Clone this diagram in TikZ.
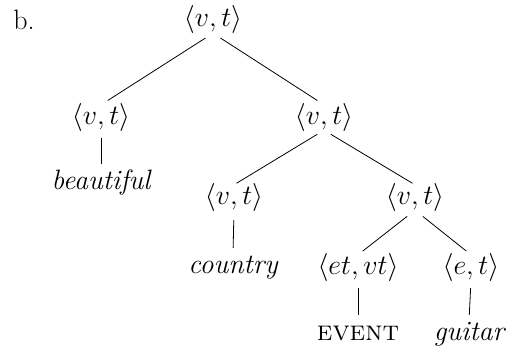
\RequirePackage{fix-cm}
\documentclass[tikz,border=0pt]{standalone}
\begin{document}
\begin{tikzpicture}[x=1pt,y=-1pt,
  lab/.style={anchor=base, inner sep=0pt, font=\fontsize{28}{32}\selectfont, text height=19pt, text depth=6pt},
  edge/.style={line width=0.8pt, shorten <=8pt, shorten >=6pt}]
\useasboundingbox (0,0) rectangle (509,348);
\node[lab] (b) at (24,29) {b.};
\node[lab] (r) at (213,27) {$\langle v,t\rangle$};
\node[lab] (l) at (101,124) {$\langle v,t\rangle$};
\node[lab] (beautiful) at (101,189) {\itshape beautiful};
\node[lab] (m) at (324,124) {$\langle v,t\rangle$};
\node[lab] (ml) at (234,204) {$\langle v,t\rangle$};
\node[lab] (country) at (233,273) {\itshape country};
\node[lab] (mr) at (415,204) {$\langle v,t\rangle$};
\node[lab] (et) at (358,274) {$\langle et,vt\rangle$};
\node[lab] (event) at (358,340) {\textsc{event}};
\node[lab] (e) at (471,274) {$\langle e,t\rangle$};
\node[lab] (guitar) at (469,340) {\itshape guitar};
\draw[edge, shorten <=9pt, shorten >=8pt] (r.south) -- (l.north);
\draw[edge, shorten <=9pt, shorten >=8pt] (r.south) -- (m.north);
\draw[edge] (l.south) -- (beautiful.north);
\draw[edge, shorten >=3pt] (m.south) -- (ml.north);
\draw[edge, shorten >=3pt] (m.south) -- (mr.north);
\draw[edge, shorten <=10pt] (ml.south) -- (country.north);
\draw[edge, shorten <=10pt] (mr.south) -- (et.north);
\draw[edge, shorten <=10pt] (mr.south) -- (e.north);
\draw[edge] (et.south) -- (event.north);
\draw[edge] (e.south) -- (guitar.north);
\end{tikzpicture}
\end{document}
